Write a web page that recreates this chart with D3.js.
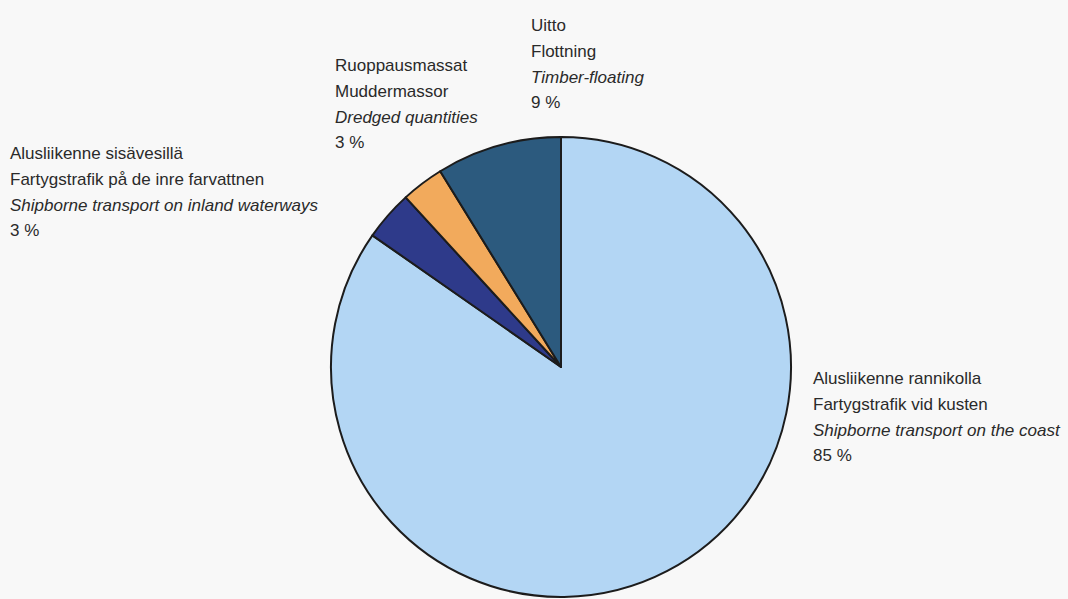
<!DOCTYPE html>
<html><head><meta charset="utf-8">
<script src="https://cdn.jsdelivr.net/npm/d3@7"></script>
<style>html,body{margin:0;padding:0;background:#f8f8f8;}svg{display:block;}</style>
</head><body>
<svg id="c" width="1068" height="599"></svg>
<script>
const categories = ["Alusliikenne rannikolla","Alusliikenne sisävesillä","Ruoppausmassat","Uitto"];
const swedish = ["Fartygstrafik vid kusten","Fartygstrafik på de inre farvattnen","Muddermassor","Flottning"];
const english = ["Shipborne transport on the coast","Shipborne transport on inland waterways","Dredged quantities","Timber-floating"];
const values = [84.7, 3.5, 3.0, 8.8];
const pctLabels = ["85 %","3 %","3 %","9 %"];
const colors = ["#b3d6f4","#2e3a8a","#f2aa5c","#2c5a7e"];

const svg = d3.select("#c");
const cx = 561, cy = 367, r = 230;
const pie = d3.pie().sort(null).value(d => d)(values);
const arc = d3.arc().innerRadius(0).outerRadius(r);
const g = svg.append("g").attr("transform", `translate(${cx},${cy})`);
g.selectAll("path").data(pie).enter().append("path")
  .attr("d", arc).attr("fill", (d,i) => colors[i])
  .attr("stroke", "#1c1c1c").attr("stroke-width", 2).attr("stroke-linejoin","round");

const labelPos = [[813, 384], [10, 159], [335, 71], [531, 31]];
const lh = 25.8;
categories.forEach((c, i) => {
  const t = svg.append("text").attr("x", labelPos[i][0]).attr("y", labelPos[i][1])
    .attr("font-family", "Liberation Sans, Arial, sans-serif").attr("font-size", 17)
    .attr("fill", "#2a2a2a");
  const lines = [c, swedish[i], english[i], pctLabels[i]];
  lines.forEach((l, k) => {
    t.append("tspan").attr("x", labelPos[i][0]).attr("dy", k === 0 ? 0 : lh)
      .attr("font-style", k === 2 ? "italic" : "normal").text(l);
  });
});
</script>
</body></html>
